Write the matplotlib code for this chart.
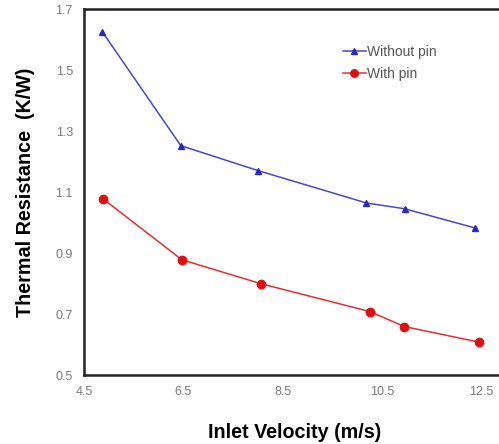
import matplotlib
matplotlib.use("Agg")
import matplotlib.pyplot as plt

# values
vel_without = [4.87, 6.45, 8.01, 10.19, 10.96, 12.38]
res_without = [1.625, 1.252, 1.170, 1.064, 1.045, 0.982]
vel_with = [4.88, 6.47, 8.07, 10.26, 10.95, 12.45]
res_with = [1.078, 0.878, 0.799, 0.708, 0.659, 0.608]
x_ticks = [4.5, 6.5, 8.5, 10.5, 12.5]
y_ticks = [0.5, 0.7, 0.9, 1.1, 1.3, 1.5, 1.7]

plt.rcParams['font.family'] = ['Liberation Sans', 'DejaVu Sans']

fig = plt.figure(figsize=(4.99, 4.44), dpi=100)
ax = fig.add_axes([0.1683, 0.1554, 0.8457, 0.8243])

ax.plot(vel_without, res_without, color='#4848c8', linewidth=1.1,
        marker='^', markersize=5, markerfacecolor='#2a2ac0',
        markeredgecolor='#2a2ac0', label='Without pin')
ax.plot(vel_with, res_with, color='#e03030', linewidth=1.1,
        marker='o', markersize=6, markerfacecolor='#e01010',
        markeredgecolor='#e01010', label='With pin')

ax.set_xlim(4.5, 13.0)
ax.set_ylim(0.5, 1.7)
ax.set_xticks(x_ticks)
ax.set_yticks(y_ticks)
ax.set_xticklabels([f"{v:g}" for v in x_ticks])
ax.set_yticklabels([f"{v:g}" for v in y_ticks])
ax.tick_params(length=0, labelsize=9, labelcolor='#7a7a7a', pad=8)

for side in ['left', 'bottom', 'top', 'right']:
    ax.spines[side].set_linewidth(1.8)
    ax.spines[side].set_color('#222222')

ax.set_xlabel("Inlet Velocity (m/s)", fontsize=14.2, fontweight='bold', labelpad=18)
ax.set_ylabel("Thermal Resistance  (K/W)", fontsize=14.2, fontweight='bold', labelpad=15)

leg = ax.legend(loc='upper left', bbox_to_anchor=(0.585, 0.935), frameon=False,
                fontsize=10, handlelength=1.6, handletextpad=0.1,
                labelspacing=0.55, markerscale=0.9)
for t in leg.get_texts():
    t.set_color('#555555')

fig.savefig("out.png", dpi=100)
